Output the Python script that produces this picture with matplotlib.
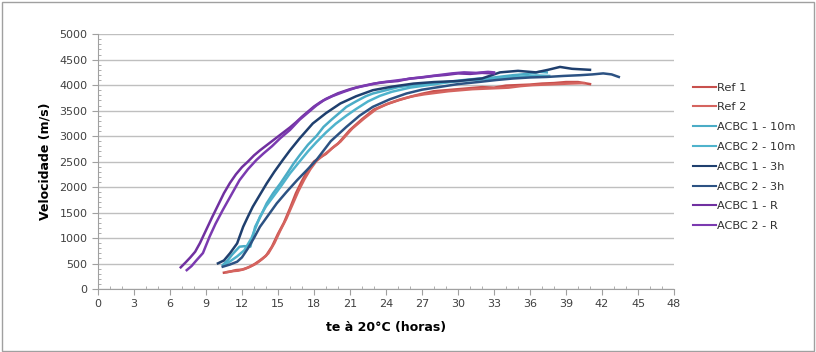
import matplotlib
matplotlib.use("Agg")
import matplotlib.pyplot as plt
from matplotlib.patches import Rectangle
from matplotlib.ticker import MultipleLocator

ref1_x = [10.5, 11.0, 11.5, 12.0, 12.5, 13.0, 13.5, 14.0, 14.5, 15.0, 15.5, 16.0, 16.5, 17.0, 17.5, 18.0,
          18.5, 19.0, 19.5, 20.0, 21.0, 22.0, 23.0, 24.0, 25.0, 26.0, 27.0, 28.0, 29.0, 30.0, 31.0, 32.0,
          33.0, 34.0, 35.0, 36.0, 37.0, 38.0, 39.0, 40.0, 41.0]
ref1_y = [320, 340, 370, 380, 420, 480, 560, 650, 830, 1080, 1300, 1580, 1880, 2120, 2330, 2500,
          2580, 2650, 2760, 2850, 3120, 3330, 3520, 3620, 3700, 3770, 3830, 3880, 3900, 3920, 3940, 3960,
          3950, 3990, 4000, 4010, 4030, 4040, 4060, 4060, 4020]
ref2_x = [10.7, 11.2, 11.7, 12.2, 12.7, 13.2, 13.7, 14.2, 14.7, 15.2, 15.7, 16.2, 16.7, 17.2, 17.7, 18.2,
          18.7, 19.2, 19.7, 20.2, 21.2, 22.2, 23.2, 24.2, 25.2, 26.2, 27.2, 28.2, 29.2, 30.2, 31.2, 32.2,
          33.2, 34.2, 35.2, 36.2, 37.2, 38.2, 39.2, 40.5]
ref2_y = [330, 350, 360, 390, 440, 500, 590, 700, 900, 1150, 1380, 1650, 1920, 2150, 2350, 2510,
          2610, 2700, 2800, 2890, 3150, 3350, 3530, 3640, 3720, 3780, 3820, 3850, 3880, 3900, 3920, 3930,
          3940, 3950, 3980, 4000, 4010, 4020, 4030, 4040]
c10a_x = [10.4, 10.8, 11.2, 11.8, 12.2, 12.7, 13.1, 13.6, 14.06, 14.6, 15.2, 15.8, 16.3, 16.8, 17.5, 18.2,
          18.8, 19.5, 20.2, 20.7, 21.5, 22.3, 22.9, 24.0, 25.0, 26.3, 27.5, 29.1, 30.5, 31.8, 33.0, 34.6,
          35.8, 36.8, 37.4]
c10a_y = [470, 560, 680, 830, 840, 830, 1220, 1450, 1680, 1880, 2070, 2280, 2460, 2620, 2830, 3000,
          3180, 3330, 3470, 3573, 3680, 3780, 3835, 3900, 3960, 4000, 4030, 4063, 4100, 4130, 4150, 4195,
          4220, 4260, 4250]
c10b_x = [10.6, 11.0, 11.6, 12.2, 12.8, 13.5, 14.0, 14.6, 15.2, 16.0, 16.8, 17.5, 18.2, 19.0, 19.8, 20.7,
          21.5, 22.5, 23.5, 24.5, 26.0, 27.5, 29.0, 30.5, 32.0, 33.5, 35.0, 36.5, 37.6]
c10b_y = [480, 540, 640, 760, 1000, 1417, 1620, 1810, 2000, 2268, 2500, 2700, 2880, 3070, 3240, 3400,
          3530, 3680, 3790, 3870, 3950, 4000, 4050, 4090, 4110, 4140, 4160, 4190, 4180]
c3a_x = [10.0, 10.5, 11.0, 11.6, 12.1, 12.5, 12.9, 13.5, 14.06, 14.7, 15.4, 16.0, 16.8, 17.9, 19.0, 20.2,
         21.5, 22.9, 24.5, 26.3, 28.0, 30.0, 32.0, 33.5, 35.0, 36.5, 37.5, 38.5, 39.5, 41.0]
c3a_y = [503, 560, 700, 895, 1220, 1420, 1613, 1850, 2070, 2300, 2530, 2720, 2953, 3247, 3450, 3640,
         3780, 3900, 3970, 4030, 4060, 4080, 4130, 4250, 4280, 4250, 4300, 4357, 4320, 4300]
c3b_x = [10.4, 11.0, 11.6, 12.0, 12.5, 13.0, 13.5, 14.2, 14.9, 15.7, 16.6, 17.4, 18.2, 19.4, 20.7, 21.8,
         22.9, 24.3, 25.7, 27.0, 28.5, 30.0, 31.8, 33.2, 34.6, 36.0, 37.4, 38.8, 40.2, 41.2, 42.1, 42.8, 43.4]
c3b_y = [437, 480, 535, 620, 797, 1000, 1220, 1450, 1680, 1900, 2136, 2330, 2530, 2900, 3180, 3400,
         3573, 3720, 3835, 3910, 3965, 4020, 4063, 4100, 4130, 4150, 4160, 4180, 4195, 4210, 4230, 4210, 4160]
r1_x = [6.9, 7.3, 7.7, 8.1, 8.5, 9.0, 9.5, 10.0, 10.5, 11.0, 11.5, 12.0, 12.5, 13.0, 13.5, 14.0, 14.5,
        15.0, 15.5, 16.0, 16.5, 17.0, 17.5, 18.0, 18.5, 19.0, 20.0, 21.0, 22.0, 23.0, 24.0, 25.0, 26.0,
        27.0, 28.0, 29.0, 30.0, 31.0, 32.0, 33.0]
r1_y = [425, 520, 620, 730, 900, 1150, 1400, 1640, 1880, 2080, 2250, 2390, 2500, 2620, 2720, 2810, 2900,
        2990, 3080, 3170, 3270, 3380, 3480, 3580, 3660, 3730, 3840, 3920, 3980, 4030, 4060, 4080, 4130,
        4150, 4180, 4200, 4230, 4220, 4240, 4230]
r2_x = [7.4, 7.8, 8.2, 8.75, 9.3, 9.8, 10.4, 11.0, 11.8, 12.5, 13.2, 13.8, 14.5, 15.2, 16.0, 16.8, 17.5,
        18.2, 18.8, 19.5, 20.5, 21.5, 22.5, 23.5, 24.5, 25.5, 26.5, 27.5, 28.5, 29.5, 30.5, 31.5, 32.5, 33.0]
r2_y = [370, 450, 560, 705, 1025, 1280, 1548, 1800, 2136, 2350, 2530, 2660, 2800, 2960, 3120, 3320, 3460,
        3600, 3700, 3780, 3870, 3950, 4000, 4050, 4080, 4110, 4140, 4170, 4200, 4230, 4250, 4240, 4260, 4250]

labels = ["Ref 1", "Ref 2", "ACBC 1 - 10m", "ACBC 2 - 10m", "ACBC 1 - 3h", "ACBC 2 - 3h", "ACBC 1 - R", "ACBC 2 - R"]
series = [(ref1_x, ref1_y), (ref2_x, ref2_y), (c10a_x, c10a_y), (c10b_x, c10b_y),
          (c3a_x, c3a_y), (c3b_x, c3b_y), (r1_x, r1_y), (r2_x, r2_y)]
colors = ["#C8504D", "#D5645F", "#4BACC6", "#4FB3CC", "#1F3F6E", "#2C5283", "#7030A0", "#7B3AB0"]

fig = plt.figure(figsize=(8.16, 3.52), dpi=100)
ax = fig.add_axes([0.120, 0.179, 0.706, 0.724])

for (xs, ys), lab, col in zip(series, labels, colors):
    ax.plot(xs, ys, color=col, lw=1.8, label=lab, zorder=3)

ax.set_xlim(0, 48)
ax.set_ylim(0, 5000)
ax.xaxis.set_major_locator(MultipleLocator(3))
ax.xaxis.set_minor_locator(MultipleLocator(1))
ax.yaxis.set_major_locator(MultipleLocator(500))
ax.yaxis.set_minor_locator(MultipleLocator(100))
ax.grid(axis="y", which="major", color="#BFBFBF", lw=1, zorder=0)
for s in ["top", "right"]:
    ax.spines[s].set_visible(False)
for s in ["left", "bottom"]:
    ax.spines[s].set_color("#A0A0A0")
ax.tick_params(which="major", direction="out", length=4, color="#A0A0A0", labelsize=8, labelcolor="#404040")
ax.tick_params(which="minor", direction="in", length=2.5, color="#A0A0A0")
ax.set_xlabel("te à 20°C (horas)", fontsize=9, fontweight="bold", labelpad=8)
ax.set_ylabel("Velocidade (m/s)", fontsize=9, fontweight="bold", labelpad=6)

leg = ax.legend(loc="upper left", bbox_to_anchor=(1.033, 0.81), frameon=False, fontsize=8.2,
                handlelength=2.0, handletextpad=0.1, labelspacing=0.86, borderaxespad=0, borderpad=0)
for h in leg.get_lines():
    h.set_linewidth(1.5)
for t in leg.get_texts():
    t.set_color("#303030")

fig.patches.append(Rectangle((0.002, 0.004), 0.996, 0.99, transform=fig.transFigure,
                             fill=False, edgecolor="#A0A0A0", lw=1))
fig.savefig("out.png", dpi=100)
